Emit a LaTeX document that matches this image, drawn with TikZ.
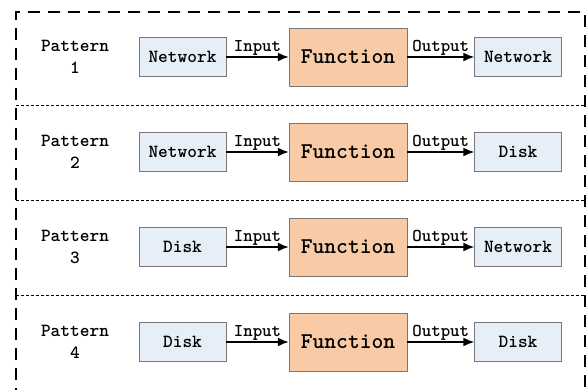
\documentclass[tikz,border=0pt]{standalone}
\usepackage{tikz}
\usetikzlibrary{arrows.meta}
\definecolor{iobox}{RGB}{230,238,248}
\definecolor{fnbox}{RGB}{248,203,166}
\definecolor{boxline}{RGB}{120,120,120}

\tikzset{
  iobox/.style={draw=boxline,fill=iobox,minimum width=87pt,minimum height=39pt,
    font=\fontsize{18.5}{21}\selectfont\ttfamily\bfseries,inner sep=0pt},
  fnbox/.style={draw=boxline,fill=fnbox,minimum width=118pt,minimum height=58pt,
    font=\fontsize{22.5}{25}\selectfont\ttfamily\bfseries,inner sep=0pt},
  flow/.style={line width=1.6pt,-{Latex[length=11pt,width=9pt]}},
  flowlabel/.style={font=\fontsize{18}{20}\selectfont\ttfamily\bfseries,inner sep=0.5pt},
  patlabel/.style={font=\fontsize{18.5}{22}\selectfont\ttfamily\bfseries,align=center}
}

\begin{document}
\begin{tikzpicture}[x=1pt,y=-1pt]
		\useasboundingbox (0,0) rectangle (587,389);
		% outer frame
		\draw[line width=2.2pt,dash pattern=on 12pt off 8pt] (16,420) -- (16,12) -- (585,12) -- (585,420);
		% row separators
		\foreach \y in {105,200,295}
			\draw[densely dashed,line width=0.5pt] (16,\y) -- (585,\y);
		% rows
		\foreach \i/\src/\dst [evaluate=\i as \c using 57+95*(\i-1)] in
			{1/Network/Network,2/Network/Disk,3/Disk/Network,4/Disk/Disk}{
			\node[patlabel] (pat\i) at (75,\c) {Pattern\\\i};
			\node[iobox] (src\i) at (182.5,\c) {\src};
			\node[fnbox] (fn\i) at (348,\c) {Function};
			\node[iobox] (dst\i) at (518,\c) {\dst};
			\draw[flow] (src\i) -- node[flowlabel,above] {Input} (fn\i);
			\draw[flow] (fn\i) -- node[flowlabel,above] {Output} (dst\i);
		}
	\end{tikzpicture}
\end{document}
